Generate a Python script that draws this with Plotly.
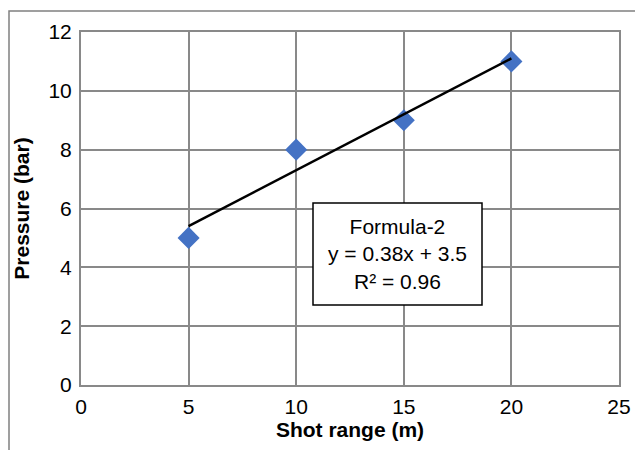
import numpy as np
import plotly.graph_objects as go

shot_range = [5, 10, 15, 20]
pressure = [5, 8, 9, 11]
x_ticks = [0, 5, 10, 15, 20, 25]
y_ticks = [0, 2, 4, 6, 8, 10, 12]
box_text = "Formula-2<br>y = 0.38x + 3.5<br>R² = 0.96"

slope, intercept = np.polyfit(shot_range, pressure, 1)
tx = [min(shot_range), max(shot_range)]
ty = [slope * v + intercept for v in tx]

W, H = 635, 450
L, R, T, B = 81, 16, 32, 65
pw, ph = W - L - R, H - T - B
FONT = "Liberation Sans, Arial"

fig = go.Figure()
fig.add_trace(go.Scatter(x=shot_range, y=pressure, mode="markers",
                         marker=dict(symbol="diamond", size=17, color="#4472C4",
                                     line=dict(width=0)), showlegend=False))
fig.add_trace(go.Scatter(x=tx, y=ty, mode="lines",
                         line=dict(color="black", width=2.5), showlegend=False))

grid = "#898989"
fig.update_xaxes(range=[0, 25], tickvals=x_ticks, showgrid=True, gridcolor=grid, gridwidth=2,
                 showline=True, linecolor=grid, linewidth=2, mirror=True, zeroline=False,
                 ticks="", ticklabelstandoff=2, automargin=False,
                 tickfont=dict(family=FONT, size=21, color="black"),
                 title=dict(text="<b>Shot range (m)</b>", standoff=5,
                            font=dict(family=FONT, size=21, color="black")))
fig.update_yaxes(range=[0, 12], tickvals=y_ticks, showgrid=True, gridcolor=grid, gridwidth=2,
                 showline=True, linecolor=grid, linewidth=2, mirror=True, zeroline=False,
                 ticks="", ticklabelstandoff=3, automargin=False,
                 tickfont=dict(family=FONT, size=21, color="black"),
                 title=dict(text="<b>Pressure (bar)</b>", standoff=13,
                            font=dict(family=FONT, size=21, color="black")))

bx0, bx1 = (313 - L) / pw, (482 - L) / pw
by0, by1 = (H - B - 305) / ph, (H - B - 203) / ph
fig.add_shape(type="rect", xref="paper", yref="paper", x0=bx0, x1=bx1, y0=by0, y1=by1,
              line=dict(color="black", width=1.5), fillcolor="white", layer="above")
fig.add_annotation(xref="paper", yref="paper", x=(bx0 + bx1) / 2, y=(by0 + by1) / 2,
                   text=box_text, showarrow=False, align="center",
                   font=dict(family=FONT, size=21, color="black"))

ox = (9 - L) / pw
oy = (H - B - 11) / ph
fig.add_shape(type="path", xref="paper", yref="paper",
              path=f"M {ox} {-0.3} L {ox} {oy} L {1.1} {oy}",
              line=dict(color="#808080", width=1.5))

fig.update_layout(width=W, height=H, margin=dict(l=L, r=R, t=T, b=B, autoexpand=False),
                  paper_bgcolor="white", plot_bgcolor="white")
fig.write_html("out.html")
